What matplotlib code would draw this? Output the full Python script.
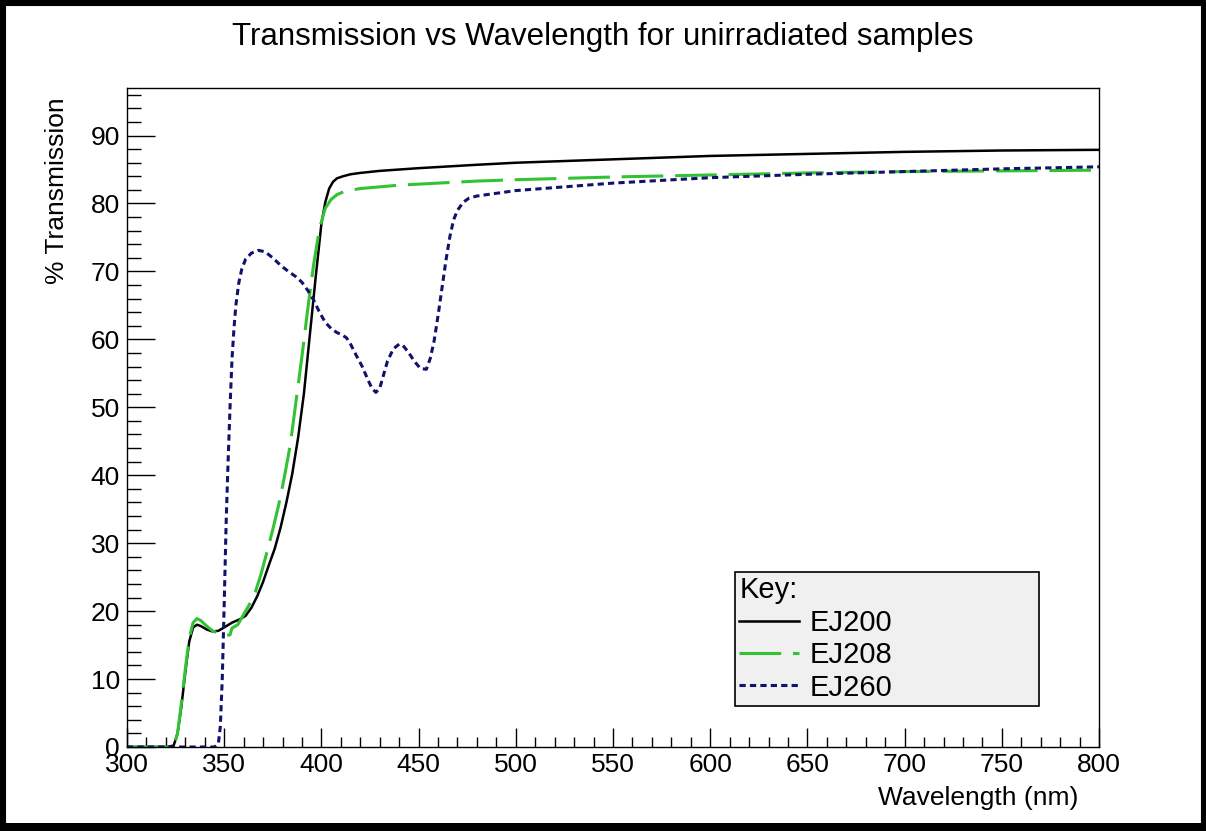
import matplotlib
matplotlib.use('Agg')
import matplotlib.pyplot as plt
from matplotlib.patches import Rectangle
from matplotlib.ticker import MultipleLocator

plt.rcParams['font.family'] = ['Liberation Sans', 'DejaVu Sans']
plt.rcParams['lines.scale_dashes'] = False

# EJ200
wl_200 = [300, 320, 324, 326, 328, 330, 332, 334, 336, 338, 341, 344, 347, 350, 354, 358,
          361, 364, 367, 370, 373, 376, 379, 382, 385, 388, 391, 394, 397, 400, 402, 404,
          406, 408, 411, 415, 420, 430, 450, 480, 500, 550, 600, 650, 700, 750, 800]
tr_200 = [0, 0, 0.2, 2, 6, 11, 15.5, 17.6, 18.0, 17.8, 17.3, 17.0, 17.1, 17.6, 18.3, 18.8,
          19.3, 20.5, 22.2, 24.3, 26.8, 29.2, 32.3, 36.0, 40.2, 45.5, 52.0, 60.5, 69.0, 77.0, 80.2, 82.2,
          83.2, 83.7, 84.0, 84.3, 84.5, 84.8, 85.2, 85.7, 86.0, 86.5, 87.0, 87.3, 87.6, 87.8, 87.9]

# EJ208
wl_208 = [300, 324, 326, 328, 330, 332, 334, 336, 338, 341, 344, 347, 350, 353, 354, 357,
          360, 363, 366, 369, 372, 375, 378, 381, 384, 387, 390, 393, 396, 399, 402, 405,
          408, 412, 420, 440, 460, 480, 500, 550, 600, 650, 700, 750, 800]
tr_208 = [0, 0, 2, 6.5, 11.5, 16, 18.3, 18.9, 18.6, 17.8, 17.1, 16.7, 16.4, 16.5, 17.5, 18.0,
          19.5, 21.0, 22.8, 25.5, 28.7, 32.0, 35.6, 39.8, 44.5, 51.0, 57.5, 64.5, 71.0, 76.3, 79.3, 80.6,
          81.3, 81.8, 82.2, 82.7, 83.0, 83.3, 83.5, 83.9, 84.2, 84.5, 84.7, 84.8, 84.9]

# EJ260
wl_260 = [300, 345, 347, 348, 349, 350, 351, 352, 353, 354, 355, 356, 357.5, 359, 361, 364,
          367.5, 371, 375, 379, 383, 387, 390, 393, 396, 399, 402, 405, 408, 411, 413, 415,
          418, 421, 424, 426, 428, 430, 432, 434, 437, 440, 442, 445, 448, 451, 454, 456,
          458, 460, 462, 464, 466, 468, 470, 473, 476, 480, 490, 500, 550, 600, 650, 700,
          750, 800]
tr_260 = [0, 0, 0.5, 3, 10, 21, 33, 42, 50, 57, 61.5, 65, 68.3, 70.3, 71.8, 72.7,
          73.1, 72.9, 72.0, 70.9, 70.0, 69.2, 68.4, 67.2, 65.8, 64.0, 62.5, 61.6, 61.0, 60.6, 60.2, 59.3,
          57.6, 56.0, 54.0, 52.8, 52.2, 52.8, 54.8, 56.8, 58.6, 59.3, 59.1, 58.0, 56.7, 55.7, 55.6, 57.2,
          59.8, 63.5, 67.5, 71.5, 75.0, 77.6, 79.0, 80.2, 80.8, 81.1, 81.5, 81.9, 83.0, 83.8, 84.3, 84.7,
          85.1, 85.4]

fig = plt.figure(figsize=(12.06, 8.31), dpi=100)
ax = fig.add_axes([0.1053, 0.1011, 0.806, 0.793])

ax.plot(wl_200, tr_200, color='black', lw=1.8, label='EJ200')
ax.plot(wl_208, tr_208, color='#33c233', lw=2.2, dashes=(30, 8.5), label='EJ208')
ax.plot(wl_260, tr_260, color='#12126c', lw=2.2, dashes=(4.5, 3), label='EJ260')

ax.set_xlim(300, 800)
ax.set_ylim(0, 97)
ax.xaxis.set_major_locator(MultipleLocator(50))
ax.xaxis.set_minor_locator(MultipleLocator(10))
ax.yaxis.set_major_locator(MultipleLocator(10))
ax.yaxis.set_minor_locator(MultipleLocator(2))
ax.tick_params(axis='x', which='major', direction='in', length=14, width=1, labelsize=19, pad=4)
ax.tick_params(axis='x', which='minor', direction='in', length=7, width=1)
ax.tick_params(axis='y', which='major', direction='in', length=20, width=1, labelsize=19, pad=5)
ax.tick_params(axis='y', which='minor', direction='in', length=10, width=1)
for s in ax.spines.values():
    s.set_linewidth(1)

fig.text(0.5, 1 - 37.5 / 831, 'Transmission vs Wavelength for unirradiated samples',
         ha='center', va='center', fontsize=22.5)
fig.text(1078 / 1206, 1 - 798 / 831, 'Wavelength (nm)', ha='right', va='center', fontsize=19)
fig.text(57 / 1206, 1 - 97 / 831, '% Transmission', ha='center', va='top', rotation=90, fontsize=19)

leg = ax.legend(loc='lower left', bbox_to_anchor=(0.6255, 0.0622, 0.3128, 0.211), mode='expand',
                title='Key:', alignment='left', fontsize=21, title_fontsize=21,
                frameon=True, fancybox=False, facecolor='#f0f0f0', edgecolor='black',
                framealpha=1, handlelength=2.05, handletextpad=0.35, labelspacing=0.15,
                borderpad=0.15, borderaxespad=0)
leg.get_frame().set_linewidth(1.2)

# outer black frame
fig.patches.append(Rectangle((0, 0), 1, 1, transform=fig.transFigure, fill=False,
                             edgecolor='black', lw=8))
fig.patches.append(Rectangle((0, 0), 1, 8 / 831, transform=fig.transFigure,
                             color='black', lw=0))

fig.savefig('out.png', dpi=100)
